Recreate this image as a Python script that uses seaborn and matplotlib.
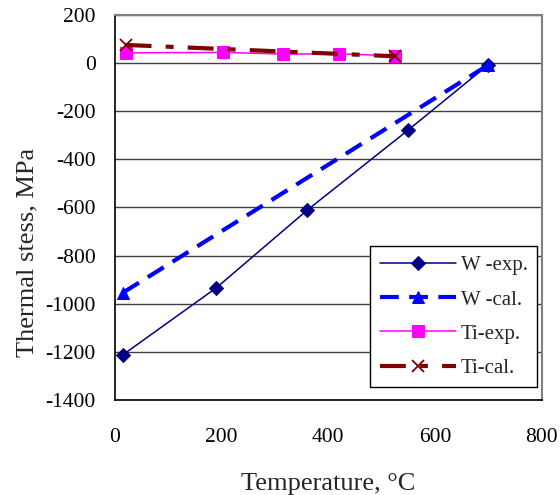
import matplotlib
matplotlib.use("Agg")
import matplotlib.pyplot as plt
import seaborn as sns

sns.set_theme(style="white")
plt.rcParams["font.family"] = ["Liberation Serif", "DejaVu Serif"]
plt.rcParams["axes.unicode_minus"] = False

# Measured and calculated thermal stress vs temperature
w_exp_t = [15, 190, 360, 550, 700]
w_exp_s = [-1212, -934, -612, -278, -7]

w_cal_t = [15, 700]
w_cal_s = [-954, -8]

ti_exp_t = [20, 203, 315, 420, 525]
ti_exp_s = [42, 44, 37, 38, 30]

ti_cal_t = [20, 525]
ti_cal_s = [75, 28]

x_ticks = [0, 200, 400, 600, 800]
y_ticks = [200, 0, -200, -400, -600, -800, -1000, -1200, -1400]

fig = plt.figure(figsize=(5.6, 4.95), dpi=100)
ax = fig.add_axes([0.2054, 0.192, 0.7619, 0.778])

for y in y_ticks:
    ax.axhline(y, color="#404040", lw=1.0, zorder=0)

sns.lineplot(x=w_exp_t, y=w_exp_s, ax=ax, color="#000080", lw=1.1,
             marker="D", markersize=7, markeredgecolor="#000080",
             label="W -exp.", sort=False, errorbar=None)
sns.lineplot(x=w_cal_t, y=w_cal_s, ax=ax, color="#0000FF", lw=3,
             linestyle=(0, (4.5, 2.5)), marker="^", markersize=9,
             markeredgecolor="#0000FF", label="W -cal.", sort=False,
             errorbar=None)
sns.lineplot(x=ti_exp_t, y=ti_exp_s, ax=ax, color="#FF00FF", lw=1.1,
             marker="s", markersize=8, markeredgecolor="#FF00FF",
             label="Ti-exp.", sort=False, errorbar=None)
sns.lineplot(x=ti_cal_t, y=ti_cal_s, ax=ax, color="#800000", lw=3,
             linestyle=(0, (6.2, 3.4, 1.9, 3.4)), marker="x", markersize=9,
             markeredgewidth=1.3, markeredgecolor="#800000",
             label="Ti-cal.", sort=False, errorbar=None)

ax.set_xlim(0, 800)
ax.set_ylim(-1400, 200)
ax.set_xticks(x_ticks)
ax.set_yticks(y_ticks)
ax.tick_params(axis="both", direction="in", length=5, width=1,
               labelsize=15.5, colors="black")
ax.tick_params(axis="y", pad=14)
ax.tick_params(axis="x", pad=20)

for side in ["left", "bottom"]:
    ax.spines[side].set_color("black")
    ax.spines[side].set_linewidth(1.2)
for side in ["top", "right"]:
    ax.spines[side].set_color("#808080")
    ax.spines[side].set_linewidth(1.5)

ax.set_xlabel("Temperature, °C", fontsize=19, labelpad=19)
ax.set_ylabel("Thermal stess, MPa", fontsize=19)
ax.yaxis.set_label_coords(-0.18, 0.384)

leg = ax.legend(loc="lower right", bbox_to_anchor=(0.99, 0.033),
                fontsize=15, frameon=True, fancybox=False, framealpha=1,
                edgecolor="black", handlelength=3.65, borderpad=0.45,
                labelspacing=0.7, handletextpad=0.25, borderaxespad=0)
leg.get_frame().set_linewidth(1.0)

fig.savefig("out.png", dpi=100)
